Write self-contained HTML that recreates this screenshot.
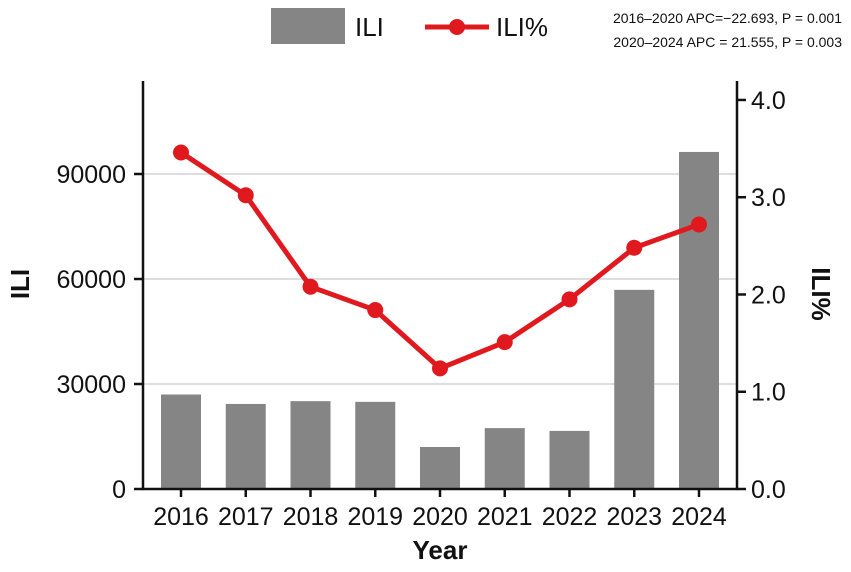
<!DOCTYPE html>
<html><head><meta charset="utf-8"><style>
body{margin:0;background:#fff}
svg text{font-family:"Liberation Sans",Arial,sans-serif}
</style></head><body>
<svg id="chart" width="851" height="567" xmlns="http://www.w3.org/2000/svg">
<g id="legend">
<rect x="271" y="8" width="74" height="36" fill="#858585"/>
<text x="355" y="36" font-size="26" fill="#111">ILI</text>
<line x1="425" y1="27" x2="489" y2="27" stroke="#e0191f" stroke-width="5"/>
<circle cx="457" cy="27" r="8" fill="#e0191f"/>
<text x="496" y="36" font-size="26" fill="#111">ILI%</text>
<text x="842" y="23" font-size="14" text-anchor="end" fill="#111">2016–2020  APC=−22.693, P = 0.001</text>
<text x="842" y="47" font-size="14" text-anchor="end" fill="#111">2020–2024  APC = 21.555, P = 0.003</text>
</g>
<g id="plot"></g>
</svg>
<script>
const years=["2016","2017","2018","2019","2020","2021","2022","2023","2024"];
const iliCounts=[27000,24300,25100,24900,12000,17400,16600,56900,96300];
const iliPct=[3.46,3.02,2.08,1.84,1.24,1.51,1.95,2.48,2.72];
const leftTicks=[0,30000,60000,90000];
const rightTicks=[0,1,2,3,4];
const NS="http://www.w3.org/2000/svg";
const X0=143,X1=737,Y0=489,YT=81;
const LMAX=116571,RMAX=4.195;
const xs=i=>181+i*64.75;
const yl=v=>Y0-(v/LMAX)*(Y0-YT);
const yr=v=>Y0-(v/RMAX)*(Y0-YT);
const g=document.getElementById('plot');
function mk(t,a){const e=document.createElementNS(NS,t);for(const k in a)e.setAttribute(k,a[k]);g.appendChild(e);return e;}
leftTicks.forEach(v=>{if(v>0){const l=mk('line',{x1:X0,x2:X1,y1:yl(v),y2:yl(v),stroke:'#d4d4d4','stroke-width':1.5});

}});
iliCounts.forEach((v,i)=>{const r=mk('rect',{x:xs(i)-20,y:yl(v),width:40,height:Y0-yl(v),fill:'#858585'});

});
const pts=iliPct.map((v,i)=>xs(i)+','+yr(v)).join(' ');
const pl=mk('polyline',{points:pts,fill:'none',stroke:'#e0191f','stroke-width':5,'stroke-linejoin':'round'});


iliPct.forEach((v,i)=>{const c=mk('circle',{cx:xs(i),cy:yr(v),r:8,fill:'#e0191f'});

});
const ax=[[X0,YT,X0,Y0],[X1,YT,X1,Y0],[X0-1,Y0,X1+1,Y0]];
ax.forEach((a,i)=>{const l=mk('line',{x1:a[0],y1:a[1],x2:a[2],y2:a[3],stroke:'#111','stroke-width':2.5});

});
leftTicks.forEach(v=>{const y=yl(v);mk('line',{x1:X0-9,x2:X0,y1:y,y2:y,stroke:'#111','stroke-width':2.5});
const t=mk('text',{x:X0-17,y:y+9,'font-size':25,'text-anchor':'end',fill:'#111'});t.textContent=v;

});
rightTicks.forEach(v=>{const y=yr(v);mk('line',{x1:X1,x2:X1+9,y1:y,y2:y,stroke:'#111','stroke-width':2.5});
const t=mk('text',{x:X1+14,y:y+9,'font-size':25,fill:'#111'});t.textContent=v.toFixed(1);

});
years.forEach((y,i)=>{mk('line',{x1:xs(i),x2:xs(i),y1:Y0,y2:Y0+8,stroke:'#111','stroke-width':2.5});
const t=mk('text',{x:xs(i),y:Y0+36,'font-size':25,'text-anchor':'middle',fill:'#111'});t.textContent=y;

});
const xt=mk('text',{x:440,y:559,'font-size':26,'font-weight':'bold','text-anchor':'middle',fill:'#111'});xt.textContent='Year';


const lt=mk('text',{x:0,y:0,'font-size':26,'font-weight':'bold','text-anchor':'middle',fill:'#111',transform:'translate(29,284) rotate(-90)'});lt.textContent='ILI';


const rt=mk('text',{x:0,y:0,'font-size':26,'font-weight':'bold','text-anchor':'middle',fill:'#111',transform:'translate(812,294) rotate(90)'});rt.textContent='ILI%';


</script>
</body></html>
